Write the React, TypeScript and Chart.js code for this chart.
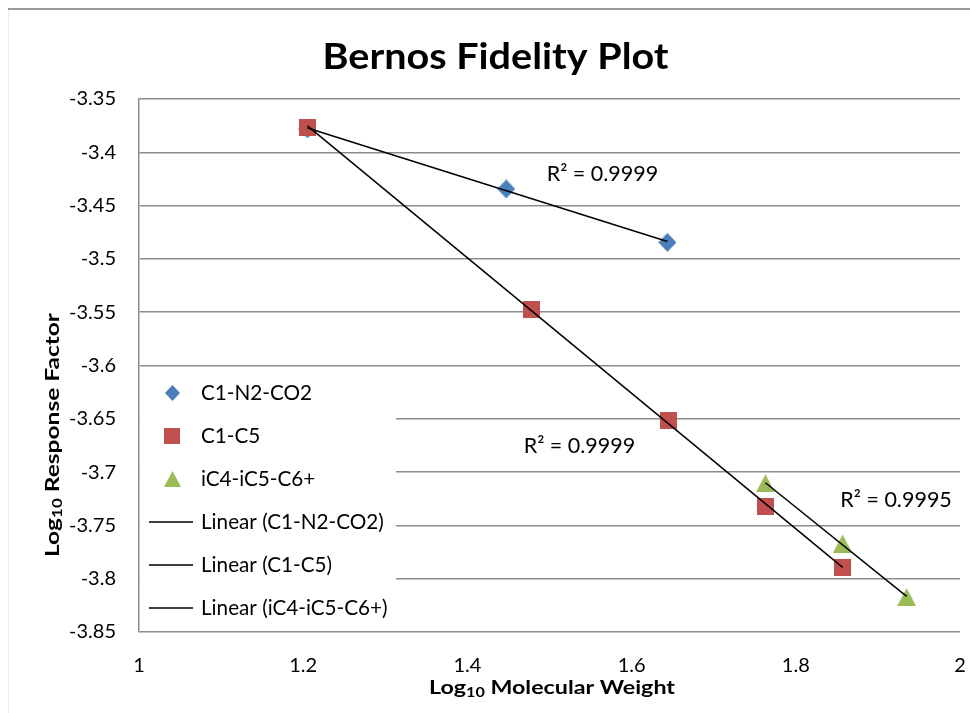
import React, { useEffect, useRef } from "react";
import { Chart, registerables } from "chart.js";

Chart.register(...registerables);

// ---- data ----
const seriesNames = ["C1-N2-CO2", "C1-C5", "iC4-iC5-C6+"];
const c1n2co2X = [1.2052, 1.4473, 1.6436];
const c1n2co2Y = [-3.378, -3.4344, -3.4845];
const c1c5X = [1.2052, 1.4781, 1.6444, 1.763, 1.857];
const c1c5Y = [-3.3766, -3.547, -3.652, -3.7325, -3.7893];
const ic4X = [1.763, 1.857, 1.935];
const ic4Y = [-3.7105, -3.767, -3.8172];
const r2Texts = ["R\u00B2 = 0.9999", "R\u00B2 = 0.9999", "R\u00B2 = 0.9995"];
const xTicks = [1, 1.2, 1.4, 1.6, 1.8, 2];
const yTicks = [-3.35, -3.4, -3.45, -3.5, -3.55, -3.6, -3.65, -3.7, -3.75, -3.8, -3.85];
const chartTitle = "Bernos Fidelity Plot";
const xTitle = ["Log", "10", " Molecular Weight"];
const yTitle = ["Log", "10", " Response Factor"];

// label anchors (data units) for the R² annotations
const r2Anchors = [
  { x: 1.5645, y: -3.4204 },
  { x: 1.5365, y: -3.6755 },
  { x: 1.9221, y: -3.7262 },
];

const COLORS = ["#4A7EBB", "#C0504D", "#9BBB59"];
const FONT = "Lato, 'Open Sans', sans-serif";

function fit(xs: number[], ys: number[]) {
  const n = xs.length;
  const mx = xs.reduce((a, b) => a + b, 0) / n;
  const my = ys.reduce((a, b) => a + b, 0) / n;
  let sxy = 0, sxx = 0;
  for (let i = 0; i < n; i++) {
    sxy += (xs[i] - mx) * (ys[i] - my);
    sxx += (xs[i] - mx) * (xs[i] - mx);
  }
  const m = sxy / sxx;
  const b = my - m * mx;
  const x0 = Math.min(...xs), x1 = Math.max(...xs);
  return [
    { x: x0, y: m * x0 + b },
    { x: x1, y: m * x1 + b },
  ];
}

function makeMarker(shape: string, w: number, h: number, color: string) {
  const c = document.createElement("canvas");
  c.width = w;
  c.height = h;
  const g = c.getContext("2d")!;
  g.fillStyle = color;
  g.beginPath();
  if (shape === "diamond") {
    g.moveTo(w / 2, 0);
    g.lineTo(w, h / 2);
    g.lineTo(w / 2, h);
    g.lineTo(0, h / 2);
  } else if (shape === "square") {
    g.rect(0, 0, w, h);
  } else {
    g.moveTo(w / 2, 0);
    g.lineTo(w, h);
    g.lineTo(0, h);
  }
  g.closePath();
  g.fill();
  return c;
}

// draws bold text parts centred at cx on baseline by, stretched to targetWidth
function drawRich(
  ctx: CanvasRenderingContext2D,
  parts: { t: string; size: number; dy: number }[],
  cx: number,
  by: number,
  targetWidth: number
) {
  let total = 0;
  const widths = parts.map((p) => {
    ctx.font = `bold ${p.size}px ${FONT}`;
    const w = ctx.measureText(p.t).width;
    total += w;
    return w;
  });
  const s = targetWidth / total;
  ctx.save();
  ctx.translate(cx - targetWidth / 2, by);
  ctx.scale(s, 1);
  ctx.textAlign = "left";
  ctx.textBaseline = "alphabetic";
  let x = 0;
  parts.forEach((p, i) => {
    ctx.font = `bold ${p.size}px ${FONT}`;
    ctx.fillText(p.t, x, p.dy);
    x += widths[i];
  });
  ctx.restore();
}

export default function App() {
  const ref = useRef<HTMLCanvasElement | null>(null);

  useEffect(() => {
    if (!ref.current) return;
    const markers = [
      makeMarker("diamond", 18, 19, COLORS[0]),
      makeMarker("square", 17, 17, COLORS[1]),
      makeMarker("triangle", 19, 18, COLORS[2]),
    ];
    const legendMarkers = [
      makeMarker("diamond", 15, 16, COLORS[0]),
      makeMarker("square", 16, 16, COLORS[1]),
      makeMarker("triangle", 17, 16, COLORS[2]),
    ];

    const toPts = (xs: number[], ys: number[]) => xs.map((x, i) => ({ x, y: ys[i] }));
    const series = [
      toPts(c1n2co2X, c1n2co2Y),
      toPts(c1c5X, c1c5Y),
      toPts(ic4X, ic4Y),
    ];
    const trends = [fit(c1n2co2X, c1n2co2Y), fit(c1c5X, c1c5Y), fit(ic4X, ic4Y)];

    const decor = {
      id: "decor",
      beforeDraw(chart: any) {
        const ctx = chart.ctx as CanvasRenderingContext2D;
        ctx.save();
        ctx.fillStyle = "#fff";
        ctx.fillRect(0, 0, chart.width, chart.height);
        ctx.strokeStyle = "#9a9a9a";
        ctx.lineWidth = 2;
        ctx.beginPath();
        ctx.moveTo(8, 9);
        ctx.lineTo(chart.width, 9);
        ctx.stroke();
        ctx.strokeStyle = "#ececec";
        ctx.lineWidth = 1;
        ctx.beginPath();
        ctx.moveTo(8.5, 10);
        ctx.lineTo(8.5, chart.height);
        ctx.stroke();
        ctx.restore();
      },
      afterDraw(chart: any) {
        const ctx = chart.ctx as CanvasRenderingContext2D;
        const xs = chart.scales.x;
        const ys = chart.scales.y;
        const area = chart.chartArea;
        ctx.save();
        ctx.fillStyle = "#000";
        // title
        drawRich(ctx, [{ t: chartTitle, size: 36, dy: 0 }], 495.5, 69, 346);
        // x title
        drawRich(
          ctx,
          [
            { t: xTitle[0], size: 18, dy: 0 },
            { t: xTitle[1], size: 12.5, dy: 3 },
            { t: xTitle[2], size: 18, dy: 0 },
          ],
          552,
          694,
          246
        );
        // y title
        ctx.save();
        ctx.translate(59, 435);
        ctx.rotate(-Math.PI / 2);
        drawRich(
          ctx,
          [
            { t: yTitle[0], size: 18, dy: 0 },
            { t: yTitle[1], size: 12.5, dy: 3 },
            { t: yTitle[2], size: 18, dy: 0 },
          ],
          0,
          0,
          244
        );
        ctx.restore();
        // R² labels
        ctx.fillStyle = "#000";
        ctx.font = `21.5px ${FONT}`;
        ctx.textAlign = "center";
        ctx.textBaseline = "middle";
        r2Anchors.forEach((a, i) => {
          ctx.fillText(r2Texts[i], xs.getPixelForValue(a.x), ys.getPixelForValue(a.y));
        });
        // legend
        const lx = area.left + 1;
        ctx.fillStyle = "#fff";
        ctx.fillRect(lx, 369, 396 - lx, area.bottom - 2 - 369);
        const items = [
          ...seriesNames.map((n, i) => ({ label: n, kind: "marker", i })),
          ...seriesNames.map((n, i) => ({ label: `Linear (${n})`, kind: "line", i })),
        ];
        items.forEach((it, k) => {
          const cy = 393 + k * 43;
          if (it.kind === "marker") {
            const m = legendMarkers[it.i];
            ctx.drawImage(m, Math.round(172 - m.width / 2), Math.round(cy - m.height / 2));
          } else {
            ctx.strokeStyle = "#000";
            ctx.lineWidth = 1.5;
            ctx.beginPath();
            ctx.moveTo(149, cy);
            ctx.lineTo(193, cy);
            ctx.stroke();
          }
          ctx.fillStyle = "#000";
          ctx.font = `20.7px ${FONT}`;
          ctx.textAlign = "left";
          ctx.textBaseline = "middle";
          ctx.fillText(it.label, 201, cy);
        });
        ctx.restore();
      },
    };

    const fmt = (v: any) => String(Number(Number(v).toFixed(2)));

    const chart = new Chart(ref.current, {
      type: "scatter",
      data: {
        datasets: [
          ...series.map((pts, i) => ({
            label: seriesNames[i],
            data: pts,
            pointStyle: markers[i] as any,
            pointRadius: 9,
            pointHoverRadius: 9,
            showLine: false,
            order: 3 - i,
          })),
          ...trends.map((pts, i) => ({
            label: `Linear (${seriesNames[i]})`,
            data: pts,
            showLine: true,
            pointRadius: 0,
            pointHoverRadius: 0,
            borderColor: "#000",
            borderWidth: 1.5,
            fill: false,
            order: 0,
          })),
        ] as any,
      },
      options: {
        animation: false,
        responsive: false,
        devicePixelRatio: 1,
        events: [],
        layout: { padding: { top: 99, right: 9, left: 0, bottom: 0 } },
        plugins: {
          legend: { display: false },
          title: { display: false },
          tooltip: { enabled: false },
        },
        scales: {
          x: {
            type: "linear",
            min: 1,
            max: 2,
            afterBuildTicks: (s: any) => {
              s.ticks = xTicks.map((v) => ({ value: v }));
            },
            afterFit: (s: any) => {
              s.height = 81;
              s.paddingLeft = 0;
              s.paddingRight = 0;
            },
            grid: { display: false, drawTicks: false },
            border: { display: false },
            ticks: {
              font: { family: FONT, size: 20 },
              color: "#000",
              padding: 22,
              maxRotation: 0,
              autoSkip: false,
              callback: fmt,
            },
          },
          y: {
            type: "linear",
            min: -3.85,
            max: -3.35,
            afterBuildTicks: (s: any) => {
              s.ticks = yTicks.map((v) => ({ value: v }));
            },
            afterFit: (s: any) => {
              s.width = 139;
              s.paddingTop = 0;
              s.paddingBottom = 0;
            },
            grid: { color: "#8c8c8c", lineWidth: 1.5, drawTicks: false },
            border: { display: true, color: "#8c8c8c", width: 1.5 },
            ticks: {
              font: { family: FONT, size: 20 },
              color: "#000",
              padding: 23,
              autoSkip: false,
              callback: fmt,
            },
          },
        },
      } as any,
      plugins: [decor],
    });

    let alive = true;
    Promise.all([
      document.fonts.load(`20px Lato`),
      document.fonts.load(`bold 20px Lato`),
    ]).then(() => {
      if (alive) chart.update();
    });

    return () => {
      alive = false;
      chart.destroy();
    };
  }, []);

  return (
    <div style={{ position: "absolute", left: 0, top: 0, width: 970, height: 713, background: "#fff" }}>
      <canvas ref={ref} width={970} height={713} style={{ display: "block" }} />
    </div>
  );
}
